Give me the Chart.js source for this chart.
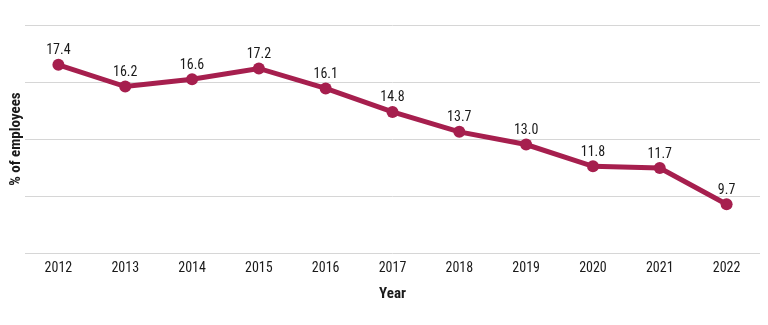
<!DOCTYPE html>
<html>
<head>
<meta charset="utf-8">
<script src="https://cdn.jsdelivr.net/npm/chart.js@4/dist/chart.umd.min.js"></script>
<style>
  html, body { margin: 0; padding: 0; background: #ffffff; }
  #wrap { width: 768px; height: 325px; position: relative; }
</style>
</head>
<body>
<div id="wrap"><canvas id="c" width="768" height="325"></canvas></div>
<script>
const years = ['2012','2013','2014','2015','2016','2017','2018','2019','2020','2021','2022'];
const employeesPct = [17.4, 16.2, 16.6, 17.2, 16.1, 14.8, 13.7, 13.0, 11.8, 11.7, 9.7];
const yMin = 7;
const yMax = 19.6;
const gridCount = 4;

const FONT = "'Liberation Sans Narrow', 'Roboto Condensed', 'DejaVu Sans Condensed', 'Liberation Sans', sans-serif";
const LINE_COLOR = '#A61F4E';

const valueLabels = {
  id: 'valueLabels',
  afterDatasetsDraw(chart) {
    const ctx = chart.ctx;
    const meta = chart.getDatasetMeta(0);
    ctx.save();
    ctx.font = '14px ' + FONT;
    ctx.fillStyle = '#1a1a1a';
    ctx.textAlign = 'center';
    ctx.textBaseline = 'bottom';
    meta.data.forEach((pt, i) => {
      ctx.fillText(employeesPct[i].toFixed(1), pt.x, pt.y - 7);
    });
    ctx.restore();
  }
};

new Chart(document.getElementById('c'), {
  type: 'line',
  data: {
    labels: years,
    datasets: [{
      data: employeesPct,
      borderColor: LINE_COLOR,
      backgroundColor: LINE_COLOR,
      borderWidth: 5,
      pointRadius: 6,
      pointHoverRadius: 6,
      pointBackgroundColor: LINE_COLOR,
      pointBorderColor: LINE_COLOR,
      pointBorderWidth: 0,
      tension: 0,
      clip: false
    }]
  },
  options: {
    responsive: false,
    animation: false,
    devicePixelRatio: 1,
    layout: { padding: { top: 25, right: 8, bottom: 22, left: 7 } },
    plugins: {
      legend: { display: false },
      tooltip: { enabled: false },
      title: { display: false }
    },
    scales: {
      x: {
        offset: true,
        grid: { display: false, drawTicks: false },
        border: { display: false },
        ticks: {
          color: '#1a1a1a',
          font: { family: FONT, size: 14 },
          padding: 7,
          maxRotation: 0
        },
        title: {
          display: true,
          text: 'Year',
          color: '#1a1a1a',
          font: { family: FONT, size: 15, weight: 'bold' },
          padding: { top: 1, bottom: 0 }
        }
      },
      y: {
        min: yMin,
        max: yMax,
        afterBuildTicks(axis) {
          const t = [];
          for (let i = 0; i <= gridCount; i++) t.push({ value: yMin + (yMax - yMin) * i / gridCount });
          axis.ticks = t;
        },
        grid: { color: '#d6d6d6', lineWidth: 1, drawTicks: false },
        border: { display: false },
        ticks: { display: false },
        title: {
          display: true,
          text: '% of employees',
          color: '#1a1a1a',
          font: { family: FONT, size: 15, weight: 'bold' },
          padding: { top: 0, bottom: 0 }
        }
      }
    }
  },
  plugins: [valueLabels]
});
</script>
</body>
</html>
